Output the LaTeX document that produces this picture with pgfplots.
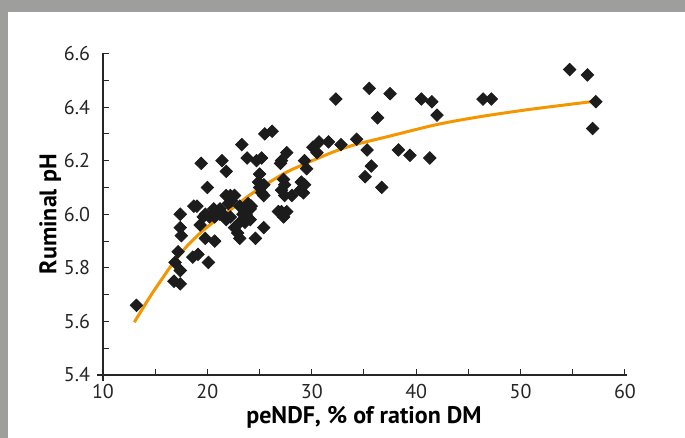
\documentclass[border=0pt]{standalone}
\usepackage{pgfplots}
\pgfplotsset{compat=1.18}
\usepackage{fontspec}
\setmainfont{PT Sans}
\definecolor{framegray}{RGB}{158,158,156}
\definecolor{fitorange}{RGB}{243,150,0}
\definecolor{markblack}{RGB}{28,28,28}

\pgfplotstableread{
x y
13.2 5.66
16.8 5.75
17.4 5.74
17.4 5.79
16.9 5.82
17.2 5.86
18.6 5.84
19.1 5.85
20.1 5.82
17.5 5.92
17.4 5.95
17.4 6.00
19.3 5.96
19.8 5.91
20.7 5.90
19.8 6.00
19.6 5.99
18.7 6.03
19.0 6.03
20.0 6.10
19.4 6.19
20.6 6.02
20.7 5.99
20.2 5.99
21.2 6.00
21.8 5.98
21.5 6.00
21.2 6.02
21.4 6.20
21.8 6.16
21.8 6.07
22.2 6.07
22.6 6.07
22.3 6.05
22.0 6.04
22.2 5.99
23.1 6.03
23.6 6.01
24.1 6.02
23.9 6.04
24.2 6.03
23.4 6.00
23.7 6.00
24.1 5.98
23.6 5.97
23.1 5.97
22.6 5.95
22.9 5.93
23.1 5.91
24.6 5.91
25.4 5.95
23.3 6.26
23.8 6.21
24.7 6.20
25.2 6.21
25.5 6.30
26.2 6.31
25.0 6.15
24.9 6.12
25.2 6.08
25.4 6.11
25.4 6.07
25.0 6.10
26.8 6.01
27.3 5.99
27.6 6.01
27.1 6.01
27.0 6.19
27.6 6.23
27.1 6.20
27.3 6.13
27.4 6.11
27.1 6.09
27.4 6.07
28.1 6.07
29.0 6.12
29.3 6.11
28.9 6.09
29.2 6.08
29.3 6.20
29.5 6.17
30.1 6.25
30.5 6.23
30.7 6.27
31.6 6.27
32.8 6.26
32.3 6.43
34.3 6.28
35.3 6.24
35.7 6.18
35.1 6.14
36.7 6.10
35.5 6.47
36.3 6.36
37.5 6.45
38.3 6.24
39.4 6.22
40.5 6.43
41.5 6.42
42.0 6.37
41.3 6.21
46.4 6.43
47.2 6.43
54.7 6.54
56.4 6.52
57.2 6.42
56.9 6.32
}\obsdata

\pgfplotstableread{
x y
13.0 5.597
14.5 5.692
15.8 5.767
16.7 5.817
18.0 5.879
19.45 5.935
20.9 5.980
22.2 6.016
24.0 6.070
26.3 6.128
28.0 6.165
31.7 6.227
34.0 6.258
37.5 6.292
42.0 6.335
46.1 6.364
51.0 6.392
57.2 6.422
}\fitdata

\begin{document}
\begin{tikzpicture}[x=1pt,y=1pt]
  % gray frame strips (top and left), white page
  \useasboundingbox (0,0) rectangle (342.5,219);
  \fill[framegray] (0,0) rectangle (342.5,219);
  \fill[white] (4,0) rectangle (342.5,213);
  \begin{axis}[
    at={(51.5pt,31.5pt)}, anchor=south west,
    scale only axis,
    width=261pt, height=160.75pt,
    xmin=10, xmax=60, ymin=5.4, ymax=6.6,
    axis x line=bottom, axis y line=left,
    axis line style={-, black!85, line width=0.6pt},
    x axis line style={shorten <=-3pt, shorten >=-1pt},
    y axis line style={shorten <=-3pt},
    xtick={10,20,...,60},
    minor xtick={15,25,...,55},
    ytick={5.4,5.6,...,6.61},
    minor ytick={5.5,5.7,...,6.51},
    tick align=inside,
    major tick length=3pt, minor tick length=3pt,
    tick style={black!85, line width=0.5pt},
    /pgf/number format/assume math mode=true,
    yticklabel style={/pgf/number format/fixed, /pgf/number format/fixed zerofill,
      /pgf/number format/precision=1, xshift=-3pt},
    ticklabel style={font=\fontsize{10}{12}\selectfont, text=black!85},
    xticklabel style={yshift=-1pt},
    xlabel={\bfseries peNDF, \% of ration DM},
    ylabel={\bfseries Ruminal pH},
    label style={font=\fontsize{12}{14}\selectfont},
    xlabel style={yshift=3pt},
    ylabel style={yshift=-5.5pt},
    clip=false,
  ]
    \addplot[only marks, mark=square*, mark size=2.2pt,
      mark options={rotate=45, fill=markblack, draw=markblack}] table {\obsdata};
    \addplot[smooth, fitorange, line width=1.5pt] table {\fitdata};
  \end{axis}
\end{tikzpicture}
\end{document}
